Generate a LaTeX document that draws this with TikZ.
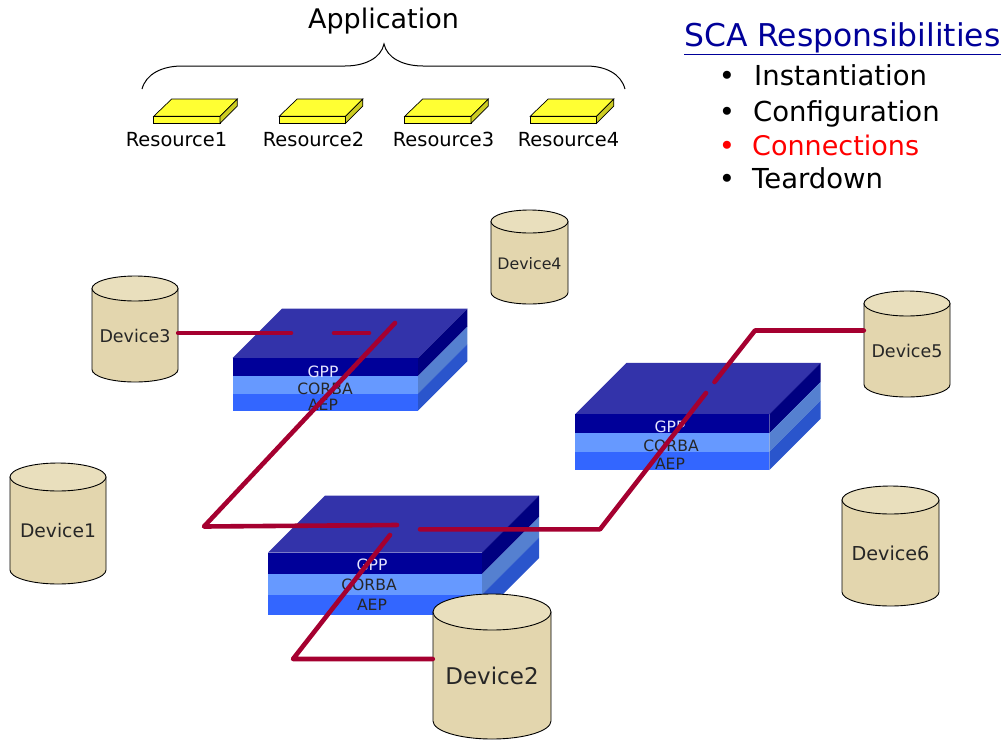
\documentclass[tikz,border=0pt]{standalone}
\usepackage{fontspec}
\setmainfont{DejaVu Sans}
\definecolor{wire}{HTML}{A50030}
\definecolor{slabtop}{HTML}{3333AA}
\definecolor{gppf}{HTML}{000099}
\definecolor{gpps}{HTML}{000080}
\definecolor{corf}{HTML}{6699FF}
\definecolor{cors}{HTML}{5580D0}
\definecolor{aepf}{HTML}{3366FF}
\definecolor{aeps}{HTML}{2A55CC}
\definecolor{cyltop}{HTML}{E9DFBD}
\definecolor{cylbody}{HTML}{E3D6AE}
\definecolor{headblue}{HTML}{000099}
\definecolor{resy}{HTML}{FFFF33}
\definecolor{resd}{HTML}{CCCC22}
\newcommand{\fs}[1]{\fontsize{#1}{#1}\selectfont}
\tikzset{
  wireline/.style={draw=wire,line width=4.6pt,line cap=round,line join=round},
  layerlabel/.style={inner sep=0pt,font=\fs{15.6}},
  devlabel/.style={inner sep=0pt,text=black!85},
  reslabel/.style={inner sep=0pt,font=\fs{19.4}},
  listitem/.style={inner sep=0pt,anchor=base west,font=\fs{27.5}},
  bulletmark/.style={inner sep=0pt,anchor=base,font=\fs{27.5}}
}
\newcommand{\slab}[8]{%
  \fill[slabtop] (#2,#4) -- (#2+#8,#4-#8) -- (#3+#8,#4-#8) -- (#3,#4) -- cycle;
  \fill[gppf] (#2,#4) rectangle (#3,#5);
  \fill[corf] (#2,#5) rectangle (#3,#6);
  \fill[aepf] (#2,#6) rectangle (#3,#7);
  \fill[gpps] (#3,#4) -- (#3+#8,#4-#8) -- (#3+#8,#5-#8) -- (#3,#5) -- cycle;
  \fill[cors] (#3,#5) -- (#3+#8,#5-#8) -- (#3+#8,#6-#8) -- (#3,#6) -- cycle;
  \fill[aeps] (#3,#6) -- (#3+#8,#6-#8) -- (#3+#8,#7-#8) -- (#3,#7) -- cycle;
}
\newcommand{\cyl}[9]{%
  \path[draw=black,line width=0.9pt,fill=cylbody]
    (#2,#4+#6) -- (#2,#5-#6) arc[start angle=180,end angle=360,x radius={(#3-#2)/2},y radius=-#6]
    -- (#3,#4+#6) -- cycle;
  \path[draw=black,line width=0.9pt,fill=cyltop]
    (#2,#4+#6) arc[start angle=180,end angle=-180,x radius={(#3-#2)/2},y radius=#6] -- cycle;
  \pgfmathsetmacro{\cylw}{#3-#2}
  \node[devlabel,minimum width=\cylw pt,font=\fs{#9}] (#1) at ({(#2+#3)/2},#8) {\cyltext};
}
\newcommand{\res}[1]{%
  \fill[resy,draw=black,line width=0.7pt] (#1,116.3) -- (#1+18,99) -- (#1+83.6,99) -- (#1+66.3,116.3) -- cycle;
  \fill[resy,draw=black,line width=0.7pt] (#1,116.3) rectangle (#1+66.3,123.3);
  \fill[resd,draw=black,line width=0.7pt] (#1+66.3,116.3) -- (#1+83.6,99) -- (#1+83.6,106) -- (#1+66.3,123.3) -- cycle;
}
\begin{document}
\begin{tikzpicture}[x=1pt,y=-1pt]
\useasboundingbox (0,0) rectangle (1004,739);
\node[inner sep=0pt,font=\fs{27}] (app) at (383.5,21.5) {Application};
\draw[line width=1pt,black] (142,89) .. controls (146,74) and (162,66) .. (182,66) -- (345,66) .. controls (365,66) and (381,58) .. (384,44)
  .. controls (387,58) and (403,66) .. (423,66) -- (586,66) .. controls (606,66) and (621,74) .. (625,89);
\res{153.7}\res{279.2}\res{404.7}\res{530.2}
\node[reslabel] (r1) at (176.5,139.5) {Resource1};
\node[reslabel] (r2) at (313.5,139.5) {Resource2};
\node[reslabel] (r3) at (443.5,139.5) {Resource3};
\node[reslabel] (r4) at (568.5,139.5) {Resource4};
\node[inner sep=0pt,anchor=base west,font=\fs{31.4},text=headblue] (head) at (684,46) {\underline{SCA Responsibilities}};
\node[bulletmark] (b1) at (727,85) {•};
\node[bulletmark] (b2) at (727,121) {•};
\node[bulletmark,text=red] (b3) at (727,155) {•};
\node[bulletmark] (b4) at (727,188) {•};
\node[listitem] (i1) at (754,85) {Instantiation};
\node[listitem] (i2) at (753,121) {Configuration};
\node[listitem,text=red,font=\fs{27}] (i3) at (752,155) {Connections};
\node[listitem] (i4) at (752,188) {Teardown};
\slab{a}{232.7}{418}{358}{376}{393.7}{410.7}{49.4}
\slab{b}{268}{482}{552.7}{574}{594.7}{615}{57}
\slab{c}{575}{769.3}{414.3}{433.3}{452}{470}{51.4}
\node[layerlabel,text=white!90!blue] (ag) at (323,372) {GPP};
\node[layerlabel,text=black!85] (ac) at (325,389) {CORBA};
\node[layerlabel,text=black!85] (ae) at (323,405) {AEP};
\node[layerlabel,text=white!90!blue] (bg) at (372,565) {GPP};
\node[layerlabel,text=black!85] (bc) at (369,585) {CORBA};
\node[layerlabel,text=black!85] (be) at (372,605) {AEP};
\node[layerlabel,text=white!90!blue] (cg) at (670,427) {GPP};
\node[layerlabel,text=black!85] (cc) at (671,446) {CORBA};
\node[layerlabel,text=black!85] (ce) at (670,464) {AEP};
\def\cyltext{Device1}\cyl{dev1}{10}{106}{463}{584}{14}{57}{531}{18.7}
\def\cyltext{Device3}\cyl{dev3}{92}{178}{276}{382}{12.5}{135}{336}{17.5}
\def\cyltext{Device4}\cyl{dev4}{491}{568}{210}{304}{11.5}{530}{264}{15.8}
\def\cyltext{Device5}\cyl{dev5}{864}{950}{291}{397}{12.5}{907}{351}{17.5}
\def\cyltext{Device6}\cyl{dev6}{842}{939}{486}{606}{14}{890}{553}{19.2}
\def\cyltext{Device2}\cyl{dev2}{433}{551}{594}{739}{18}{491}{676}{23}
\coordinate (g1) at (291,333);
\coordinate (g2) at (334,333);
\coordinate (g3) at (369,333);
\coordinate (h1) at (395,323);
\coordinate (h2) at (204,526.5);
\coordinate (h3) at (397,525);
\coordinate (k1) at (390,535);
\coordinate (k2) at (293,659);
\coordinate (m1) at (420,529.3);
\coordinate (m2) at (600,529.3);
\coordinate (m3) at (706,393);
\coordinate (n1) at (714.5,382);
\coordinate (n2) at (755,330.5);
\draw[wireline] ([yshift=3pt]dev3.east) -- (g1);
\draw[wireline] (g2) -- (g3);
\draw[wireline] (h1) -- (h2) -- (h3);
\draw[wireline] (k1) -- (k2) -- ([yshift=17pt]dev2.west);
\draw[wireline] (m1) -- (m2) -- (m3);
\draw[wireline] (n1) -- (n2) -- ([yshift=20.5pt]dev5.west);
\end{tikzpicture}
\end{document}
